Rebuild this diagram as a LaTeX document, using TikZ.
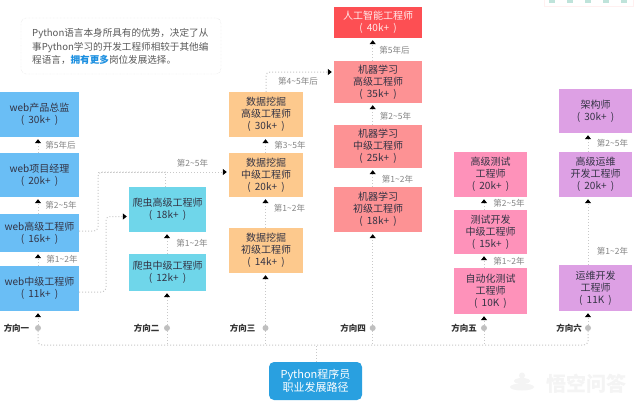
\documentclass[tikz,border=0pt]{standalone}
\usepackage{fontspec}
\setmainfont{Noto Sans CJK SC}
\usetikzlibrary{arrows.meta,calc}
\definecolor{cweb}{HTML}{6ABEF5}
\definecolor{ccr}{HTML}{6FD6EA}
\definecolor{cda}{HTML}{FDC98D}
\definecolor{cai}{HTML}{FD4F53}
\definecolor{cml}{HTML}{FD9294}
\definecolor{cte}{HTML}{FE92BA}
\definecolor{cop}{HTML}{DDA0E4}
\definecolor{cline}{HTML}{C8C8C8}
\definecolor{clab}{HTML}{858585}
\definecolor{ctxt}{HTML}{333344}
\definecolor{cpy}{HTML}{29A0E0}
\definecolor{cblue}{HTML}{1B8FE0}
\definecolor{cmark}{HTML}{F4F4F4}
\definecolor{ctool}{HTML}{BFE3DA}
\newcommand{\pay}[1]{(\hspace{0.42em}#1\hspace{0.42em})}
\newcommand{\tld}{{\char"7E}}
\tikzset{
  jobbox/.style={inner sep=0pt,font=\fontsize{10}{12}\selectfont,align=center},
  linkline/.style={draw=cline,line width=1pt,dotted,rounded corners=4pt},
  linkhead/.style={-{Triangle[length=4pt,width=6pt,color=black]},shorten >=2pt},
  steplabel/.style={text=clab,font=\fontsize{8.5}{10}\selectfont,inner sep=0pt},
  dirlabel/.style={text=black!80,font=\bfseries\fontsize{8.5}{10}\selectfont,inner sep=0pt},
  dirdot/.style={circle,fill=black!25,inner sep=0pt,minimum size=6pt}
}
\begin{document}
\begin{tikzpicture}[x=1pt,y=-1pt]
\useasboundingbox[fill=white] (0,0) rectangle (640,408);
% toolbar fragment at the top edge
\draw[draw=red!6,line width=0.6pt] (544,0) -- (544,6) -- (633,6) -- (633,0);
\foreach \x in {552,570,588,606,624}
  \fill[ctool] (\x-3,0) rectangle (\x+3,2.5);
% watermark
\fill[cmark] (522,387) ellipse (12pt and 3.5pt);
\fill[cmark] (522,381) ellipse (8pt and 3pt);
\fill[cmark] (522,375.5) circle (3pt);
\node[inner sep=0pt,text=cmark,font=\bfseries\fontsize{20}{22}\selectfont] (mark) at (586,384) {悟空问答};
% jobs
\node[jobbox,fill=cweb,text=ctxt,minimum width=79pt,minimum height=45pt] (w4) at (39.5,114.5) {web产品总监\\\pay{30k+}};
\node[jobbox,fill=cweb,text=ctxt,minimum width=79pt,minimum height=44pt] (w3) at (39.5,175) {web项目经理\\\pay{20k+}};
\node[jobbox,fill=cweb,text=ctxt,minimum width=79pt,minimum height=38pt] (w2) at (39.5,233) {web高级工程师\\\pay{16k+}};
\node[jobbox,fill=cweb,text=ctxt,minimum width=79pt,minimum height=45pt] (w1) at (39.5,288.5) {web中级工程师\\\pay{11k+}};
\node[jobbox,fill=ccr,text=ctxt,minimum width=77pt,minimum height=45pt] (c2) at (167.5,209.5) {爬虫高级工程师\\\pay{18k+}};
\node[jobbox,fill=ccr,text=ctxt,minimum width=77pt,minimum height=37pt] (c1) at (167.5,272.5) {爬虫中级工程师\\\pay{12k+}};
\node[jobbox,fill=cda,text=ctxt,minimum width=74pt,minimum height=45pt] (d3) at (266,114.5) {数据挖掘\\高级工程师\\\pay{30k+}};
\node[jobbox,fill=cda,text=ctxt,minimum width=74pt,minimum height=44pt] (d2) at (266,175) {数据挖掘\\中级工程师\\\pay{20k+}};
\node[jobbox,fill=cda,text=ctxt,minimum width=74pt,minimum height=45pt] (d1) at (266,250.5) {数据挖掘\\初级工程师\\\pay{14k+}};
\node[jobbox,fill=cai,text=white!92!red,minimum width=88pt,minimum height=31pt] (m4) at (378,22.5) {人工智能工程师\\\pay{40k+}};
\node[jobbox,fill=cml,text=ctxt,minimum width=88pt,minimum height=42pt] (m3) at (378,82) {机器学习\\高级工程师\\\pay{35k+}};
\node[jobbox,fill=cml,text=ctxt,minimum width=88pt,minimum height=43pt] (m2) at (378,146.5) {机器学习\\中级工程师\\\pay{25k+}};
\node[jobbox,fill=cml,text=ctxt,minimum width=88pt,minimum height=45pt] (m1) at (378,209.5) {机器学习\\初级工程师\\\pay{18k+}};
\node[jobbox,fill=cte,text=ctxt,minimum width=73pt,minimum height=45pt] (t3) at (490.5,174.5) {高级测试\\工程师\\\pay{20k+}};
\node[jobbox,fill=cte,text=ctxt,minimum width=73pt,minimum height=44pt] (t2) at (490.5,232) {测试开发\\中级工程师\\\pay{15k+}};
\node[jobbox,fill=cte,text=ctxt,minimum width=73pt,minimum height=46pt] (t1) at (490.5,291) {自动化测试\\工程师\\\pay{10K}};
\node[jobbox,fill=cop,text=ctxt,minimum width=73pt,minimum height=44pt] (o3) at (595.5,111) {架构师\\\pay{30k+}};
\node[jobbox,fill=cop,text=ctxt,minimum width=73pt,minimum height=45pt] (o2) at (595.5,174.5) {高级运维\\开发工程师\\\pay{20k+}};
\node[jobbox,fill=cop,text=ctxt,minimum width=73pt,minimum height=46pt] (o1) at (595.5,288) {运维开发\\工程师\\\pay{11K}};
% root
\node[fill=cpy,text=white,rounded corners=5pt,inner sep=0pt,minimum width=93pt,minimum height=38pt,align=center,font=\fontsize{11}{13}\selectfont] (root) at (315.5,381) {Python程序员\\职业发展路径};
% direction dots
\node[dirdot] (s1) at (38,328) {};
\node[dirdot] (s2) at (167,328) {};
\node[dirdot] (s3) at (265.5,328) {};
\node[dirdot] (s4) at (372.7,328) {};
\node[dirdot] (s5) at (484,328) {};
\node[dirdot] (s6) at (588,328) {};
\node[dirlabel] (l1) at (16.5,328.5) {方向一};
\node[dirlabel] (l2) at (146.5,328.5) {方向二};
\node[dirlabel] (l3) at (242.5,328.5) {方向三};
\node[dirlabel] (l4) at (353,328.5) {方向四};
\node[dirlabel] (l5) at (464,328.5) {方向五};
\node[dirlabel] (l6) at (569,328.5) {方向六};
% bus
\coordinate (busl) at (38,345);
\coordinate (busr) at (588,345);
\coordinate (bust) at (316.7,345);
\draw[linkline] (s1) -- (busl) -- (busr) -- (s6);
\foreach \k in {s2,s3,s4,s5} \draw[linkline] (\k) -- (\k |- busl);
\draw[linkline] (root.north -| bust) -- (bust);
% columns
\foreach \k/\b in {s1/w1,s2/c1,s3/d1,s4/m1,s5/t1,s6/o1}
  \draw[linkline,linkhead] (\k) -- (\k |- \b.south);
\foreach \k/\a/\b in {s1/w1/w2,s1/w2/w3,s1/w3/w4,s2/c1/c2,s3/d1/d2,s3/d2/d3,s4/m1/m2,s4/m2/m3,s4/m3/m4,s5/t1/t2,s5/t2/t3,s6/o1/o2,s6/o2/o3}
  \draw[linkline,linkhead] (\k |- \a.north) -- (\k |- \b.south);
% cross links
\coordinate (ca) at (98,172);
\coordinate (cb) at (106,216.5);
\coordinate (cc) at (266,72);
\draw[linkline] (w2.east |- 0,231) -| (ca) -- (ca -| c2);
\draw[linkline,linkhead] (ca) -- (d2.west |- ca);
\draw[linkline] (c2.north -| 165,0) -- (165,172);
\draw[linkline,linkhead] (w1.east |- 0,292) -| (cb) -- (c2.west |- cb);
\draw[linkline,linkhead] (d3.north) -- (cc) -- (m3.west |- cc);
% step labels
\foreach \x/\y/\t/\n in {
 60.5/145/第5年后/a1, 61/205/第2\tld 5年/a2, 62/259.5/第1\tld 2年/a3, 192/243/第1\tld 2年/a4,
 192.5/163/第2\tld 5年/a5, 298/81.5/第4\tld 5年后/a6, 290/145/第3\tld 5年/a7, 289.5/208/第1\tld 2年/a8,
 394.5/50/第5年后/a9, 395.5/116/第2\tld 5年/a10, 397.5/179/第1\tld 2年/a11,
 509/203/第2\tld 5年/a12, 509/261/第1\tld 2年/a13, 612.5/143/第2\tld 5年/a14, 612.5/251/第1\tld 2年/a15}
  \node[steplabel] (\n) at (\x,\y) {\t};
% note
\node[draw=black!15,densely dotted,rounded corners=5pt,inner sep=0pt,minimum width=200pt,minimum height=56pt] (notebox) at (121,46) {};
\node[anchor=west,inner sep=0pt,text=black!65,align=left,font=\fontsize{9.6}{13.5}\selectfont] (notetext) at (32,46.5)
 {Python语言本身所具有的优势，决定了从\\事Python学习的开发工程师相较于其他编\\程语言，\textcolor{cblue}{\bfseries 拥有更多}岗位发展选择。};
\end{tikzpicture}
\end{document}
